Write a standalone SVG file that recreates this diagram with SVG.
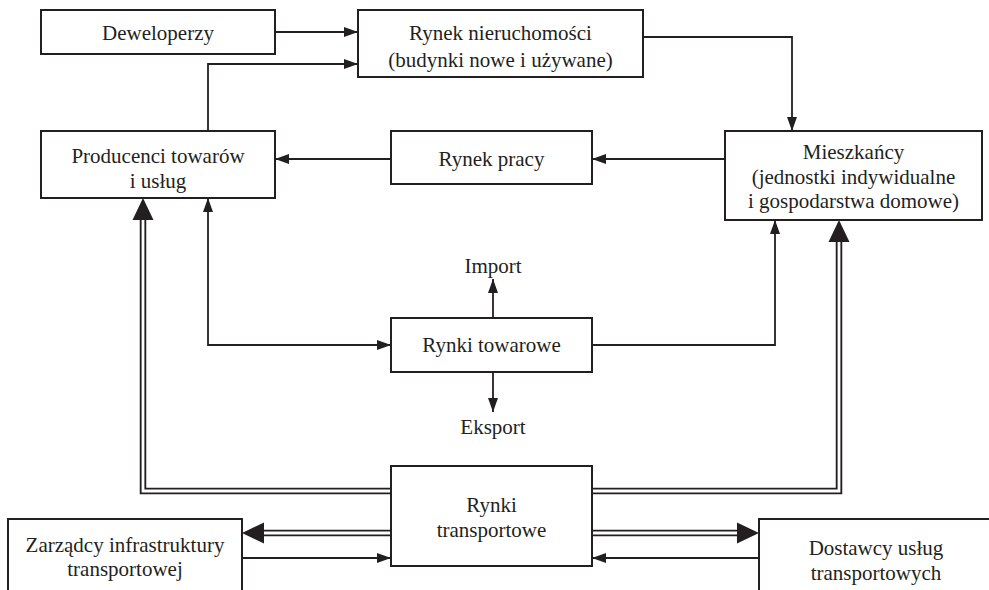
<svg xmlns="http://www.w3.org/2000/svg" width="989" height="590" viewBox="0 0 989 590">
<style>
.box{fill:#fff;stroke:#231f20;stroke-width:2}
.open{fill:none;stroke:#231f20;stroke-width:2}
.t{font-family:"Liberation Serif","Times New Roman",serif;font-size:21px;fill:#231f20;text-anchor:middle}
.thin{fill:none;stroke:#231f20;stroke-width:1.8}
.dblb{fill:none;stroke:#231f20;stroke-width:6.5;stroke-linejoin:miter}
.dblw{fill:none;stroke:#fff;stroke-width:2.8;stroke-linejoin:miter}
</style>
<defs>
<marker id="a" markerUnits="userSpaceOnUse" markerWidth="15" markerHeight="11" refX="14" refY="5" orient="auto-start-reverse" overflow="visible">
<path d="M0,0 L14,5 L0,10 z" fill="#231f20"/>
</marker>
<marker id="b" markerUnits="userSpaceOnUse" markerWidth="23" markerHeight="22" refX="0" refY="10.5" orient="auto" overflow="visible">
<path d="M0,0 L22,10.5 L0,21 z" fill="#231f20"/>
</marker>
</defs>
<g id="connectors">
<path class="thin" d="M275,32 H358" marker-end="url(#a)"/>
<path class="thin" d="M208,131 V64 H358" marker-end="url(#a)"/>
<path class="thin" d="M643,37 H792 V131" marker-end="url(#a)"/>
<path class="thin" d="M725,159 H592" marker-end="url(#a)"/>
<path class="thin" d="M391,159 H275" marker-end="url(#a)"/>
<path class="thin" d="M208,198 V345 H391" marker-start="url(#a)" marker-end="url(#a)"/>
<path class="thin" d="M592,345 H775 V220" marker-end="url(#a)"/>
<path class="thin" d="M493,318 V279" marker-end="url(#a)"/>
<path class="thin" d="M493,372 V412" marker-end="url(#a)"/>
<path class="thin" d="M242,558 H391" marker-end="url(#a)"/>
<path class="thin" d="M759,558 H592" marker-end="url(#a)"/>
<path class="dblb" d="M391,491 H143 V220" marker-end="url(#b)"/>
<path class="dblw" d="M393,491 H143 V220"/>
<path class="dblb" d="M592,491 H839 V242" marker-end="url(#b)"/>
<path class="dblw" d="M590,491 H839 V242"/>
<path class="dblb" d="M391,533 H264" marker-end="url(#b)"/>
<path class="dblw" d="M393,533 H264"/>
<path class="dblb" d="M592,533 H737" marker-end="url(#b)"/>
<path class="dblw" d="M590,533 H737"/>
</g>
<g id="deweloperzy">
<rect class="box" x="41" y="10" width="234" height="44"/>
<text class="t" x="158" y="40">Deweloperzy</text>
</g>
<g id="rynek-nieruchomosci">
<rect class="box" x="358" y="10" width="285" height="67"/>
<text class="t" x="500.5" y="40">Rynek nieruchomości</text>
<text class="t" x="500.5" y="67">(budynki nowe i używane)</text>
</g>
<g id="producenci">
<rect class="box" x="41" y="131" width="234" height="67"/>
<text class="t" x="158" y="163">Producenci towarów</text>
<text class="t" x="158" y="188">i usług</text>
</g>
<g id="rynek-pracy">
<rect class="box" x="391" y="131" width="201" height="53"/>
<text class="t" x="491.5" y="166">Rynek pracy</text>
</g>
<g id="mieszkancy">
<rect class="box" x="725" y="131" width="257" height="89"/>
<text class="t" x="853.5" y="159">Mieszkańcy</text>
<text class="t" x="853.5" y="184">(jednostki indywidualne</text>
<text class="t" x="853.5" y="208">i gospodarstwa domowe)</text>
</g>
<g id="import">
<text class="t" x="493" y="273">Import</text>
</g>
<g id="rynki-towarowe">
<rect class="box" x="391" y="318" width="201" height="54"/>
<text class="t" x="491.5" y="352">Rynki towarowe</text>
</g>
<g id="eksport">
<text class="t" x="493" y="434">Eksport</text>
</g>
<g id="rynki-transportowe">
<rect class="box" x="391" y="466" width="201" height="100"/>
<text class="t" x="491.5" y="512">Rynki</text>
<text class="t" x="491.5" y="537">transportowe</text>
</g>
<g id="zarzadcy">
<path class="box" d="M8,591 V519 H242 V591"/>
<text class="t" x="125" y="552">Zarządcy infrastruktury</text>
<text class="t" x="125" y="576">transportowej</text>
</g>
<g id="dostawcy">
<path class="box" d="M759,591 V519 H990"/>
<text class="t" x="876" y="555">Dostawcy usług</text>
<text class="t" x="876" y="580">transportowych</text>
</g>
</svg>
